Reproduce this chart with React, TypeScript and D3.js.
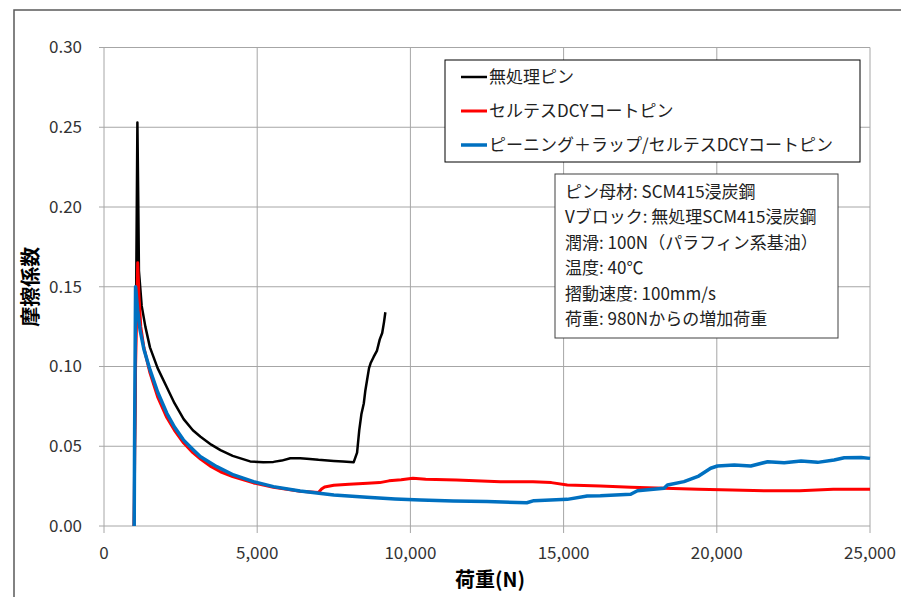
import React from 'react';
import * as d3 from 'd3';

// 荷重(N) / 摩擦係数
const untreatedLoad = [980, 1040, 1090, 1120, 1140, 1230, 1350, 1500, 1750, 2050, 2300, 2600, 2900, 3150, 3500, 3800, 4200, 4770, 5200, 5530, 5800, 6080, 6400, 6620, 7000, 7500, 7800, 8150, 8260, 8330, 8400, 8480, 8530, 8590, 8650, 8700, 8800, 8910, 9000, 9080, 9140, 9183];
const untreatedCof = [0, 0.12, 0.253, 0.2, 0.16, 0.138, 0.125, 0.112, 0.099, 0.087, 0.077, 0.067, 0.06, 0.056, 0.051, 0.0476, 0.044, 0.0405, 0.04, 0.0402, 0.041, 0.0425, 0.0425, 0.0422, 0.0415, 0.0408, 0.0405, 0.04, 0.046, 0.06, 0.07, 0.077, 0.085, 0.092, 0.099, 0.102, 0.106, 0.11, 0.117, 0.121, 0.128, 0.134];

const dcyLoad = [980, 1030, 1100, 1140, 1200, 1300, 1500, 1750, 2050, 2300, 2600, 2900, 3150, 3500, 3800, 4200, 4880, 5530, 6400, 7000, 7100, 7200, 7500, 8000, 8600, 9000, 9300, 9700, 10080, 10500, 11500, 12940, 14000, 14600, 15120, 16200, 17200, 18300, 19400, 20500, 21600, 22700, 23800, 25000];
const dcyCof = [0, 0.1, 0.165, 0.145, 0.125, 0.112, 0.096, 0.081, 0.068, 0.06, 0.052, 0.046, 0.042, 0.0372, 0.034, 0.031, 0.027, 0.0243, 0.0218, 0.021, 0.0232, 0.0245, 0.0255, 0.0262, 0.0268, 0.0272, 0.0283, 0.029, 0.0299, 0.0293, 0.0288, 0.0278, 0.0278, 0.0272, 0.0257, 0.0251, 0.0243, 0.0236, 0.023, 0.0226, 0.0221, 0.0221, 0.023, 0.023];

const peenLoad = [985, 1000, 1030, 1100, 1176, 1300, 1500, 1750, 2050, 2300, 2590, 2900, 3140, 3680, 4230, 4880, 5530, 6400, 7500, 8580, 9500, 10330, 11400, 12500, 13000, 13800, 14030, 15120, 15770, 16200, 17190, 17410, 18280, 18390, 18930, 19410, 19800, 20020, 20570, 21110, 21660, 22200, 22750, 23290, 23830, 24160, 24710, 25000];
const peenCof = [0, 0.06, 0.15, 0.135, 0.123, 0.111, 0.098, 0.084, 0.0707, 0.062, 0.054, 0.048, 0.0435, 0.0372, 0.032, 0.0278, 0.0247, 0.0219, 0.0194, 0.018, 0.017, 0.0163, 0.0157, 0.0153, 0.015, 0.0146, 0.0159, 0.0167, 0.0188, 0.019, 0.0199, 0.0221, 0.0236, 0.0257, 0.0278, 0.0313, 0.0362, 0.0376, 0.0382, 0.0376, 0.0403, 0.0397, 0.0407, 0.0399, 0.0414, 0.0428, 0.043, 0.0424];

const xTicks = [0, 5000, 10000, 15000, 20000, 25000];
const yTicks = [0, 0.05, 0.1, 0.15, 0.2, 0.25, 0.3];

const legendLabels = ['無処理ピン', 'セルテスDCYコートピン', 'ピーニング＋ラップ/セルテスDCYコートピン'];
const infoLines = [
  'ピン母材: SCM415浸炭鋼',
  'Vブロック: 無処理SCM415浸炭鋼',
  '潤滑: 100N（パラフィン系基油）',
  '温度: 40℃',
  '摺動速度: 100mm/s',
  '荷重: 980Nからの増加荷重',
];

const series = [
  { load: untreatedLoad, cof: untreatedCof, color: '#000000', width: 2.5 },
  { load: dcyLoad, cof: dcyCof, color: '#ff0000', width: 3 },
  { load: peenLoad, cof: peenCof, color: '#0070c0', width: 3.5 },
];

const W = 901;
const H = 597;
const margin = { top: 47.5, right: 31, bottom: 71, left: 104 };
const font = '"Noto Sans CJK JP", "Noto Sans", sans-serif';

export default function App() {
  const x = d3.scaleLinear().domain([0, 25000]).range([margin.left, W - margin.right]);
  const y = d3.scaleLinear().domain([0, 0.3]).range([H - margin.bottom, margin.top]);
  const fmt = d3.format(',');

  const line = d3.line<[number, number]>()
    .x(d => x(d[0]))
    .y(d => y(d[1]));

  const grid = '#a6a6a6';

  return (
    <svg width={W} height={H} style={{ position: 'absolute', left: 0, top: 0, background: '#fff' }}>
      <rect x={14} y={10} width={W} height={H} fill="#fff" stroke="#595959" strokeWidth={1.5} />

      {yTicks.map(t => (
        <g key={'y' + t}>
          <line x1={x(0) - 5} x2={x(25000)} y1={y(t)} y2={y(t)} stroke={grid} strokeWidth={1} />
          <text x={82} y={y(t)} dy="0.35em" textAnchor="end" fontSize={17} fontFamily={font} fill="#333">
            {t.toFixed(2)}
          </text>
        </g>
      ))}
      {xTicks.map(t => (
        <g key={'x' + t}>
          <line x1={x(t)} x2={x(t)} y1={y(0.3)} y2={y(0) + 7} stroke={grid} strokeWidth={1} />
          <text x={x(t)} y={y(0) + 27} dy="0.35em" textAnchor="middle" fontSize={17} fontFamily={font} fill="#333">
            {fmt(t)}
          </text>
        </g>
      ))}

      {series.map((s, i) => (
        <path
          key={i}
          d={line(s.load.map((l, j) => [l, s.cof[j]] as [number, number])) || ''}
          fill="none"
          stroke={s.color}
          strokeWidth={s.width}
          strokeLinejoin="round"
        />
      ))}

      <text transform={`translate(31,${y(0.15)}) rotate(-90)`} textAnchor="middle" dy="0.35em" fontSize={20} fontWeight="bold" fontFamily={font}>
        摩擦係数
      </text>
      <text x={490} y={580} textAnchor="middle" dy="0.35em" fontSize={20} fontWeight="bold" fontFamily={font}>
        荷重(N)
      </text>

      <rect x={445} y={60} width={415} height={102} fill="#fff" stroke="#000" strokeWidth={1} />
      {legendLabels.map((lab, i) => (
        <g key={lab} transform={`translate(0,${77 + i * 34})`}>
          <line x1={461} x2={487} y1={0} y2={0} stroke={series[i].color} strokeWidth={series[i].width} />
          <text x={489} y={0} dy="0.35em" fontSize={17} fontFamily={font} fill="#222">
            {lab}
          </text>
        </g>
      ))}

      <rect x={555} y={174} width={283} height={164} fill="#fff" stroke="#404040" strokeWidth={1} />
      {infoLines.map((t, i) => (
        <text key={t} x={565} y={192 + i * 25.4} dy="0.35em" fontSize={17} fontFamily={font} fill="#222">
          {t}
        </text>
      ))}
    </svg>
  );
}
